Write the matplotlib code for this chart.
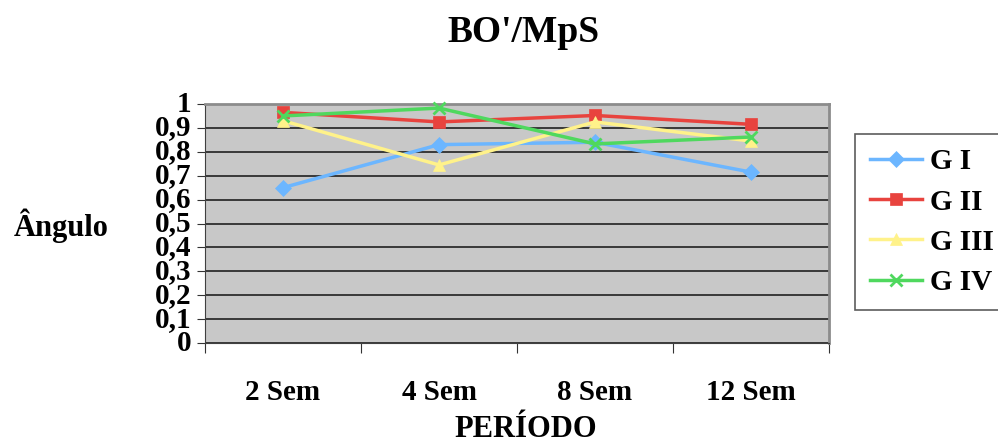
import numpy as np
import matplotlib
matplotlib.use("Agg")
import matplotlib.pyplot as plt

periods = ["2 Sem", "4 Sem", "8 Sem", "12 Sem"]
g1 = [0.65, 0.83, 0.84, 0.715]
g2 = [0.965, 0.925, 0.952, 0.915]
g3 = [0.93, 0.745, 0.925, 0.845]
g4 = [0.95, 0.983, 0.833, 0.862]
y_ticks = [0, 0.1, 0.2, 0.3, 0.4, 0.5, 0.6, 0.7, 0.8, 0.9, 1.0]
y_labels = ["0", "0,1", "0,2", "0,3", "0,4", "0,5", "0,6", "0,7", "0,8", "0,9", "1"]

plt.rcParams["font.family"] = ["Liberation Serif", "DejaVu Serif"]
plt.rcParams["font.weight"] = "bold"

fig = plt.figure(figsize=(9.98, 4.46), dpi=100)
ax = fig.add_axes([0.2054, 0.2309, 0.6253, 0.5359])
ax.set_facecolor("#C8C8C8")

x = np.arange(len(periods)) + 0.5
series = [
    ("G I", g1, "#6CB6FF", "D", 8),
    ("G II", g2, "#E8433E", "s", 9),
    ("G III", g3, "#FFF28A", "^", 9),
    ("G IV", g4, "#4FD85E", "x", 9),
]
for name, vals, col, mk, ms in series:
    ax.plot(x, vals, color=col, marker=mk, markersize=ms, lw=2.5,
            markeredgewidth=2 if mk == "x" else 0.5, markeredgecolor=col,
            label=name, clip_on=False, zorder=3)

ax.set_xlim(0, 4)
ax.set_ylim(0, 1)
ax.set_yticks(y_ticks)
ax.set_yticklabels(y_labels)
ax.yaxis.grid(True, color="#202020", lw=1.2)
ax.set_axisbelow(True)

ax.set_xticks(range(5))
ax.set_xticklabels([])
ax.set_xticks(x, minor=True)
ax.set_xticklabels(periods, minor=True)
ax.tick_params(axis="x", which="minor", length=0, pad=26, labelsize=21)
ax.tick_params(axis="x", which="major", length=7, direction="out", color="#333333")
ax.tick_params(axis="y", length=6, direction="out", labelsize=21, pad=4, color="#333333")
for lab in ax.get_yticklabels():
    lab.set_verticalalignment("center")

for side in ["top", "right"]:
    ax.spines[side].set_color("#8C8C8C")
    ax.spines[side].set_linewidth(2)
ax.spines["left"].set_color("#404040")
ax.spines["bottom"].set_color("#404040")

fig.text(0.5245, 0.928, "BO'/MpS", ha="center", va="center", fontsize=27, fontweight="bold")
fig.text(0.061, 0.493, "Ângulo", ha="center", va="center", fontsize=22, fontweight="bold")
fig.text(0.5265, 0.036, "PERÍODO", ha="center", va="center", fontsize=22, fontweight="bold")

leg = fig.legend(loc="upper left", bbox_to_anchor=(0.857, 0.70), fontsize=21,
                 frameon=True, fancybox=False, edgecolor="#333333",
                 handlelength=1.8, handletextpad=0.25, labelspacing=0.45,
                 borderpad=0.5, borderaxespad=0)
leg.get_frame().set_linewidth(1.2)

fig.savefig("out.png", dpi=100)
